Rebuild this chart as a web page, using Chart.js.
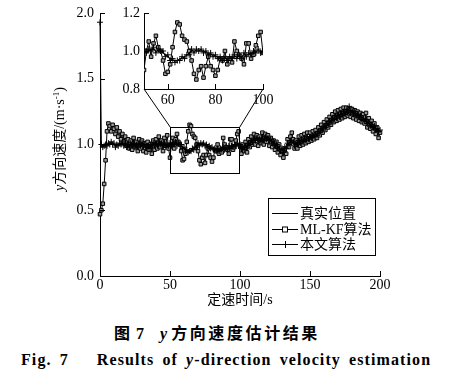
<!DOCTYPE html>
<html><head><meta charset="utf-8">
<script src="https://cdn.jsdelivr.net/npm/chart.js@4"></script>
<style>
body{margin:0;background:#fff;width:455px;height:379px;position:relative;overflow:hidden;font-family:"Liberation Serif","Noto Sans CJK SC",serif;color:#000;}
#main{position:absolute;left:0;top:0;}
#inset{position:absolute;left:104px;top:3px;}
.ytitle{position:absolute;left:60px;top:139px;transform:translate(-50%,-50%) rotate(-90deg);white-space:nowrap;font-size:14px;line-height:14px;}
.ytitle sup{font-size:9px;vertical-align:5px;line-height:0;}
.cap1{position:absolute;top:324px;left:114px;white-space:nowrap;font-weight:bold;font-size:16px;line-height:20px;}
.cap1 .zh{letter-spacing:2.6px;}
.cap2{position:absolute;top:350px;left:21px;white-space:nowrap;font-weight:bold;font-size:16px;line-height:20px;letter-spacing:1.1px;word-spacing:3px;font-family:"Liberation Serif",serif;}
</style>
</head><body>
<canvas id="main" width="455" height="314"></canvas>
<canvas id="inset" width="170" height="106"></canvas>
<div class="ytitle"><i>y</i>方向速度/(m·s<sup>-1</sup>)</div>
<div class="cap1">图<span style="margin-left:6px">7</span><span style="margin-left:16px"><i>y</i></span> <span class="zh">方向速度估计结果</span></div>
<div class="cap2">Fig. 7<span style="margin-left:28px">Results of <i>y</i>-direction velocity estimation</span></div>
<script>
// ---- data ----
const seriesNames = ['真实位置', 'ML-KF算法', '本文算法'];
const xTickValues = [0, 50, 100, 150, 200];
const yTickValues = [0.0, 0.5, 1.0, 1.5, 2.0];
const insetXTickValues = [60, 80, 100];
const insetYTickValues = [0.8, 1.0, 1.2];
const xTitle = '定速时间/s';

const trueVel = [
1.00,1.00,0.99,0.99,0.99,1.00,1.00,1.01,1.01,1.00,
1.00,0.99,0.99,1.00,1.00,1.01,1.01,1.00,1.00,0.99,
0.99,0.99,1.00,1.00,1.00,0.99,0.99,0.99,1.00,1.00,
1.00,1.00,0.99,0.99,0.98,0.98,0.99,0.99,1.00,1.00,
1.00,1.00,1.01,1.01,1.00,1.00,1.00,0.99,0.99,1.00,
1.00,1.00,1.00,1.01,1.01,1.00,1.00,1.00,0.99,0.98,
0.97,0.96,0.95,0.95,0.95,0.96,0.96,0.97,0.98,0.99,
1.00,1.00,1.00,1.00,1.00,1.00,0.99,0.99,0.98,0.98,
0.97,0.97,0.96,0.96,0.96,0.96,0.96,0.96,0.97,0.97,
0.97,0.97,0.98,0.98,0.98,0.99,0.99,1.00,1.00,1.00,
0.99,0.98,0.97,0.97,0.98,0.99,1.00,1.01,1.02,1.03,
1.03,1.04,1.04,1.04,1.03,1.03,1.04,1.04,1.05,1.05,
1.04,1.04,1.03,1.02,1.01,1.00,0.99,0.98,0.97,0.96,
0.96,0.95,0.97,0.98,1.00,1.01,1.02,1.02,1.01,1.00,
1.00,1.01,1.02,1.02,1.03,1.03,1.04,1.04,1.05,1.05,
1.05,1.06,1.06,1.07,1.07,1.08,1.09,1.10,1.11,1.12,
1.13,1.14,1.15,1.16,1.17,1.18,1.19,1.20,1.21,1.21,
1.22,1.22,1.23,1.23,1.24,1.24,1.25,1.25,1.26,1.25,
1.25,1.24,1.24,1.23,1.22,1.22,1.21,1.20,1.19,1.19,
1.18,1.17,1.16,1.15,1.14,1.14,1.13,1.12,1.11,1.11,
1.10];

const mlkfVel = [
0.47,0.50,0.55,0.70,0.88,1.10,1.16,1.14,1.10,1.15,
1.12,1.08,1.13,1.06,1.10,1.04,1.08,1.02,1.06,0.99,
1.04,0.97,1.03,0.96,1.05,0.98,1.02,0.95,1.04,0.97,
1.03,0.95,1.01,0.94,1.02,0.96,1.00,0.93,1.03,0.96,
1.04,0.97,1.06,0.98,1.03,0.95,1.05,0.99,1.07,0.97,
0.90,1.00,1.05,0.97,1.04,1.08,1.02,1.00,0.95,0.88,
0.89,0.93,1.02,1.10,1.15,1.14,1.08,1.06,1.05,1.00,
0.95,0.88,0.85,0.90,0.92,0.86,0.92,0.97,0.92,0.90,
0.87,0.90,0.96,0.95,1.00,0.93,0.96,0.94,1.05,1.00,
0.98,0.96,0.93,1.04,1.04,0.96,0.98,1.03,1.08,1.10,
0.99,0.93,1.00,0.95,1.02,0.94,1.04,0.98,1.06,1.00,
1.08,1.00,1.07,0.99,1.06,1.01,1.09,1.00,1.08,1.02,
1.07,0.99,1.05,0.98,1.03,0.96,1.02,0.94,1.00,0.92,
0.95,0.90,0.97,0.93,1.04,0.98,1.06,1.09,1.04,0.97,
1.03,0.97,1.06,0.99,1.07,1.00,1.08,1.01,1.09,1.02,
1.09,1.03,1.10,1.04,1.11,1.05,1.13,1.07,1.15,1.09,
1.17,1.11,1.19,1.13,1.21,1.15,1.23,1.17,1.25,1.18,
1.26,1.19,1.27,1.20,1.28,1.21,1.28,1.22,1.27,1.21,
1.27,1.20,1.26,1.19,1.25,1.18,1.24,1.17,1.23,1.16,
1.24,1.13,1.20,1.12,1.18,1.10,1.16,1.08,1.13,1.05,
1.09];

const propVel = [
1.93,1.00,0.98,0.99,1.00,0.99,1.01,1.00,1.02,1.00,
1.01,0.98,1.00,0.99,1.01,1.00,1.02,0.99,1.01,0.98,
1.00,0.98,1.01,0.99,1.01,0.98,1.00,0.98,1.01,0.99,
1.01,0.99,1.00,0.98,0.99,0.97,1.00,0.98,1.01,0.99,
1.01,0.99,1.02,1.00,1.01,0.99,1.01,0.98,1.00,0.99,
1.01,0.99,1.01,1.00,1.02,0.99,1.01,1.00,1.00,0.97,
0.98,0.95,0.96,0.94,0.95,0.95,0.97,0.96,0.98,0.98,
1.01,0.99,1.01,1.00,1.01,0.99,1.00,0.98,0.99,0.97,
0.98,0.96,0.97,0.95,0.97,0.95,0.97,0.96,0.98,0.96,
0.98,0.96,0.99,0.97,0.99,0.98,1.00,0.99,1.01,0.99,
1.00,0.97,0.98,0.96,0.99,0.98,1.01,1.00,1.03,1.02,
1.04,1.03,1.05,1.03,1.04,1.02,1.05,1.03,1.06,1.04,
1.05,1.03,1.04,1.01,1.02,0.99,1.00,0.97,0.98,0.95,
0.97,0.94,0.98,0.97,1.01,1.00,1.03,1.01,1.02,0.99,
1.01,1.00,1.03,1.01,1.04,1.02,1.05,1.03,1.06,1.04,
1.06,1.05,1.07,1.06,1.08,1.07,1.10,1.09,1.12,1.11,
1.14,1.13,1.16,1.15,1.18,1.17,1.20,1.19,1.22,1.20,
1.23,1.21,1.24,1.22,1.25,1.23,1.26,1.24,1.29,1.24,
1.26,1.23,1.25,1.22,1.23,1.21,1.22,1.19,1.20,1.18,
1.19,1.16,1.17,1.14,1.15,1.13,1.14,1.11,1.12,1.10,
1.11];

// sample times (1 s step)
const times = trueVel.map((_, i) => i);
const toXY = arr => arr.map((v, i) => ({x: times[i], y: v}));

// zoomed region shown in the inset (data units)
const zoomBox = {x0: 50, x1: 99, y0: 0.78, y1: 1.13};

const serif = "'Liberation Serif', 'Noto Sans CJK SC', serif";
const INSET_LEFT = 104, INSET_TOP = 3;

function makeDatasets(clip) {
  return [
    {label: seriesNames[0], data: toXY(trueVel), borderColor: '#000', borderWidth: 1, pointRadius: 0, order: 1, clip: clip},
    {label: seriesNames[1], data: toXY(mlkfVel), borderColor: '#000', borderWidth: 1, pointStyle: 'rect', pointRadius: 2.5, pointBorderWidth: 1, pointBorderColor: '#000', pointBackgroundColor: '#9a9a9a', order: 2, clip: clip},
    {label: seriesNames[2], data: toXY(propVel), borderColor: '#000', borderWidth: 1, pointStyle: 'cross', pointRadius: 3, pointBorderWidth: 1, pointBorderColor: '#000', order: 0, clip: clip}
  ];
}

const innerTicks = {
  id: 'innerTicks',
  afterDraw(chart) {
    const ctx = chart.ctx, ca = chart.chartArea, xs = chart.scales.x, ys = chart.scales.y;
    ctx.save();
    ctx.strokeStyle = '#000'; ctx.lineWidth = 1;
    ctx.beginPath();
    xs.ticks.forEach(t => { const px = Math.round(xs.getPixelForValue(t.value)) + 0.5; ctx.moveTo(px, ca.bottom); ctx.lineTo(px, ca.bottom - 5); });
    ys.ticks.forEach(t => { const py = Math.round(ys.getPixelForValue(t.value)) + 0.5; ctx.moveTo(ca.left, py); ctx.lineTo(ca.left + 5, py); });
    ctx.stroke();
    ctx.restore();
  }
};

function scaleOpts(min, max, tickVals, fmt, pad) {
  return {
    type: 'linear', min: min, max: max,
    afterBuildTicks(s) { s.ticks = tickVals.map(v => ({value: v})); },
    ticks: {color: '#000', font: {family: serif, size: 14}, padding: pad, callback: fmt, autoSkip: false, maxRotation: 0},
    grid: {display: false, drawTicks: false},
    border: {display: true, color: '#000', width: 1}
  };
}

function build() {
  // inset chart
  const insetX = scaleOpts(50, 100, insetXTickValues, v => String(v), 3);
  insetX.afterFit = s => { s.height = 20; s.paddingLeft = 0; s.paddingRight = 0; };
  const insetY = scaleOpts(0.8, 1.2, insetYTickValues, v => v.toFixed(1), 4);
  insetY.afterFit = s => { s.width = 40; s.paddingTop = 0; s.paddingBottom = 0; };

  const insetChart = new Chart(document.getElementById('inset'), {
    type: 'line',
    data: {datasets: makeDatasets(undefined)},
    options: {
      responsive: false, animation: false, devicePixelRatio: 1,
      layout: {padding: {top: 10, right: 11, left: 0, bottom: 0}},
      plugins: {legend: {display: false}, tooltip: {enabled: false}},
      scales: {x: insetX, y: insetY}
    },
    plugins: [innerTicks]
  });

  const zoomDecor = {
    id: 'zoomDecor',
    afterDraw(chart) {
      const ctx = chart.ctx, xs = chart.scales.x, ys = chart.scales.y;
      const bx0 = Math.round(xs.getPixelForValue(zoomBox.x0)) + 0.5;
      const bx1 = Math.round(xs.getPixelForValue(zoomBox.x1)) + 0.5;
      const by0 = Math.round(ys.getPixelForValue(zoomBox.y1)) + 0.5;
      const by1 = Math.round(ys.getPixelForValue(zoomBox.y0)) + 0.5;
      const ix = insetChart.scales.x, iy = insetChart.scales.y;
      const ixl = INSET_LEFT + ix.getPixelForValue(50), ixr = INSET_LEFT + ix.getPixelForValue(100);
      const iyb = INSET_TOP + iy.getPixelForValue(0.8);
      ctx.save();
      ctx.strokeStyle = '#000'; ctx.lineWidth = 1;
      ctx.strokeRect(bx0, by0, bx1 - bx0, by1 - by0);
      ctx.beginPath();
      ctx.moveTo(ixl, iyb); ctx.lineTo(bx0, by0);
      ctx.moveTo(ixr, iyb); ctx.lineTo(bx1, by0);
      ctx.stroke();
      ctx.restore();
    }
  };

  const legendBox = {
    id: 'legendBox',
    afterDraw(chart) {
      const ctx = chart.ctx;
      const L = 268.5, T = 198.5, W = 107, H = 57;
      ctx.save();
      ctx.fillStyle = '#fff';
      ctx.fillRect(L, T, W, H);
      ctx.strokeStyle = '#000'; ctx.lineWidth = 1;
      ctx.strokeRect(L, T, W, H);
      const rows = [213, 229, 244];
      ctx.font = '14px ' + serif;
      ctx.fillStyle = '#000';
      ctx.textBaseline = 'middle';
      chart.data.datasets.forEach((ds, i) => {
        const y = rows[i] + 0.5;
        ctx.beginPath(); ctx.moveTo(272, y); ctx.lineTo(298, y); ctx.stroke();
        if (i === 1) {
          ctx.fillStyle = '#fff'; ctx.fillRect(282.5, y - 2.5, 5, 5);
          ctx.strokeRect(282.5, y - 2.5, 5, 5);
          ctx.fillStyle = '#000';
        } else if (i === 2) {
          ctx.beginPath(); ctx.moveTo(285.5, y - 3.5); ctx.lineTo(285.5, y + 3.5); ctx.stroke();
        }
        ctx.fillText(ds.label, 300, rows[i] + 1);
      });
      ctx.restore();
    }
  };

  const mainX = scaleOpts(0, 200, xTickValues, v => String(v), 1);
  mainX.title = {display: true, text: xTitle, color: '#000', font: {family: serif, size: 14}, padding: {top: 0, bottom: 4}};
  mainX.afterFit = s => { s.height = 37; s.paddingLeft = 0; s.paddingRight = 0; };
  const mainY = scaleOpts(0, 2, yTickValues, v => v.toFixed(1), 6);
  mainY.afterFit = s => { s.width = 51; s.paddingTop = 0; s.paddingBottom = 0; };

  new Chart(document.getElementById('main'), {
    type: 'line',
    data: {datasets: makeDatasets(false)},
    options: {
      responsive: false, animation: false, devicePixelRatio: 1,
      layout: {padding: {left: 49, top: 13, right: 75, bottom: 1}},
      plugins: {legend: {display: false}, tooltip: {enabled: false}},
      scales: {x: mainX, y: mainY}
    },
    plugins: [innerTicks, zoomDecor, legendBox]
  });
}

Promise.all([
  document.fonts.load("14px 'Liberation Serif'"),
  document.fonts.load("14px 'Noto Sans CJK SC'", '定速时间')
]).catch(() => {}).then(build);
</script>
</body></html>
